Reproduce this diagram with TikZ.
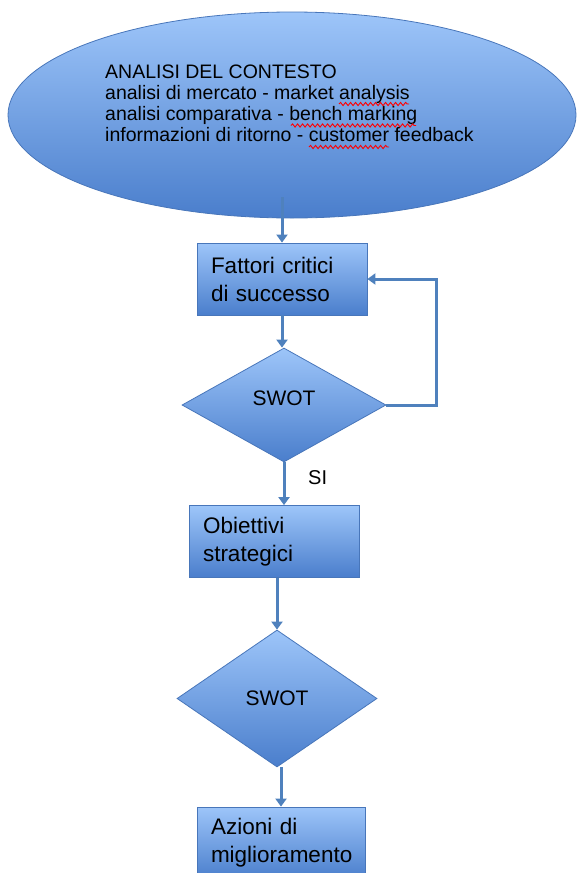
\documentclass[tikz,border=0pt]{standalone}
\usepackage{fontspec}
\setmainfont{Liberation Sans}
\usetikzlibrary{shapes.geometric,arrows.meta,decorations.pathmorphing}

\definecolor{edgeblue}{RGB}{79,129,189}
\definecolor{fillhi}{RGB}{157,197,249}
\definecolor{filllo}{RGB}{74,126,204}
\definecolor{rimblue}{RGB}{72,118,186}

\begin{document}
\begin{tikzpicture}[x=1pt,y=-1pt]
    \tikzset{ctxshape/.style = {ellipse,draw=rimblue,line width=0.8pt,top color=fillhi,bottom color=filllo,minimum width=568pt,minimum height=206pt,inner sep=0pt}}
    \tikzset{stepbox/.style = {rectangle,draw=rimblue,line width=0.8pt,top color=fillhi,bottom color=filllo,minimum width=170pt,minimum height=72pt,text width=142pt,inner xsep=14pt,inner ysep=0pt,align=left,font=\fontsize{22.5}{28}\selectfont}}
    \tikzset{swotdiamond/.style = {diamond,draw=rimblue,line width=0.8pt,top color=fillhi,bottom color=filllo,inner sep=0pt,font=\fontsize{21}{24}\selectfont}}
    \tikzset{edge/.style = {-{Triangle[width=11pt,length=8pt]},line width=3pt,draw=edgeblue}}
    \tikzset{spellwave/.style = {red,line width=0.9pt,decorate,decoration={snake,amplitude=1.6pt,segment length=5pt}}}
    \clip (0,0) rectangle (577,873);
    % shapes
    \node[ctxshape] (ctx) at (292,115) {};
    \node[anchor=north west,inner sep=0pt,align=left,font=\fontsize{19.5}{21}\selectfont] (ctxtext) at (105,65)
        {ANALISI DEL CONTESTO\\
         analisi di mercato - market analysis\\
         analisi comparativa - bench marking\\
         informazioni di ritorno - customer feedback};
    \draw[spellwave] (339,104) -- (409,104);
    \draw[spellwave] (291,125.5) -- (416,125.5);
    \draw[spellwave] (309,147) -- (389,147);
    \coordinate (ctxout) at (282,197);
    \node[stepbox] (fcs) at (282,279) {Fattori critici\\di successo};
    \node[swotdiamond,minimum width=204pt,minimum height=114pt,text depth=14pt] (swot1) at (284,405) {SWOT};
    \node[stepbox] (obs) at (274,541.5) {Obiettivi\\strategici};
    \node[swotdiamond,minimum width=200pt,minimum height=137pt] (swot2) at (277,698.5) {SWOT};
    \node[stepbox,minimum width=168pt,text width=140pt] (az) at (281,843) {Azioni di\\miglioramento};
    \node[anchor=south west,inner sep=0pt,font=\fontsize{20}{24}\selectfont] (si) at (308,485) {SI};
    % edges
    \draw[edge] (ctxout) -- (fcs.north);
    \draw[edge] (fcs.south) -- (fcs.south |- swot1.north);
    \draw[edge] (swot1.east) -- ++(50,0) |- (fcs.east);
    \draw[edge] (swot1.south) -- (swot1.south |- obs.north);
    \draw[edge] (obs.south -| swot2.north) -- (swot2.north);
    \draw[edge] (swot2.south -| az.north) -- (az.north);
\end{tikzpicture}
\end{document}
